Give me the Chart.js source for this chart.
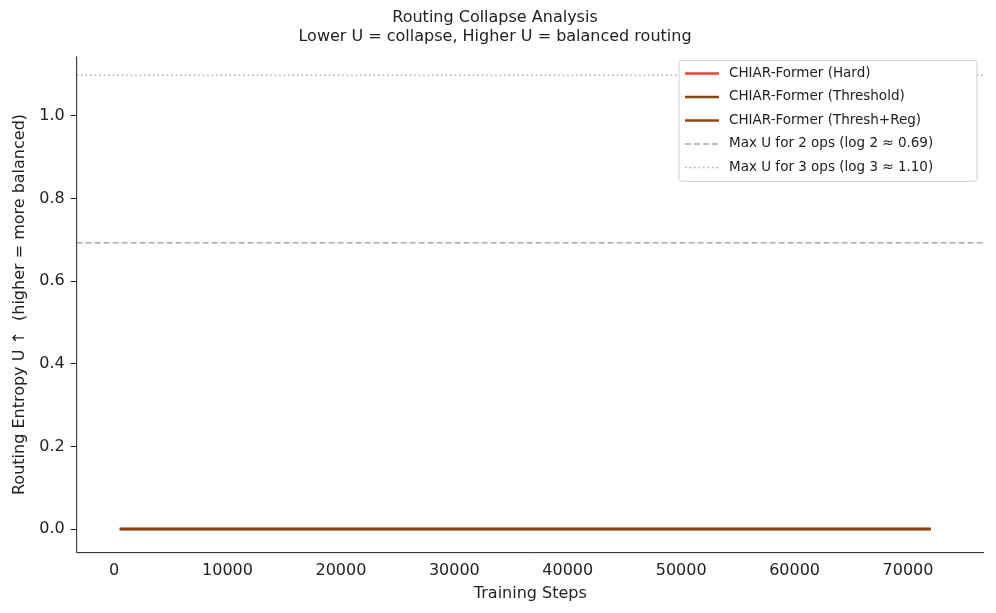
<!DOCTYPE html>
<html>
<head>
<meta charset="utf-8">
<script src="https://cdn.jsdelivr.net/npm/chart.js@4"></script>
<style>
  body { margin: 0; background: #fff; }
  #wrap { width: 996px; height: 613px; }
</style>
</head>
<body>
<div id="wrap"><canvas id="c" width="996" height="613"></canvas></div>
<script>
// ====== Data ======
const steps = [500, 10000, 20000, 30000, 40000, 50000, 60000, 72000];
const hardU = [0, 0, 0, 0, 0, 0, 0, 0];
const threshU = [0, 0, 0, 0, 0, 0, 0, 0];
const threshRegU = [0, 0, 0, 0, 0, 0, 0, 0];
const maxU2 = 0.693;
const maxU3 = 1.0986;
const xTicks = [0, 10000, 20000, 30000, 40000, 50000, 60000, 70000];
const yTicks = [0, 0.2, 0.4, 0.6, 0.8, 1.0];

const X_MIN = -3300, X_MAX = 76700;
const FONT = 'DejaVu Sans';

const pts = arr => steps.map((s, i) => ({ x: s, y: arr[i] }));
const hline = v => [{ x: X_MIN, y: v }, { x: X_MAX, y: v }];

const datasets = [
    { label: 'CHIAR-Former (Hard)', data: pts(hardU), borderColor: '#e8453c', borderWidth: 2.5, order: 5 },
    { label: 'CHIAR-Former (Threshold)', data: pts(threshU), borderColor: '#8b4513', borderWidth: 2.5, order: 4 },
    { label: 'CHIAR-Former (Thresh+Reg)', data: pts(threshRegU), borderColor: '#8b4513', borderWidth: 2.5, order: 3 },
    { label: 'Max U for 2 ops (log 2 \u2248 0.69)', data: hline(maxU2), borderColor: '#aaaaaa', borderWidth: 1.5, borderDash: [6, 3], order: 2 },
    { label: 'Max U for 3 ops (log 3 \u2248 1.10)', data: hline(maxU3), borderColor: '#aaaaaa', borderWidth: 1.5, borderDash: [1.5, 3], order: 1 }
];
datasets.forEach(d => { d.pointRadius = 0; d.fill = false; d.tension = 0; });

// ====== Legend drawn like matplotlib ======
const mplLegend = {
    id: 'mplLegend',
    afterDraw(chart) {
        const { ctx, chartArea } = chart;
        const w = 298, h = 121, x0 = chartArea.right - w - 7, y0 = chartArea.top + 4;
        ctx.save();
        ctx.fillStyle = 'rgba(255,255,255,0.85)';
        ctx.strokeStyle = '#d0d0d0';
        ctx.lineWidth = 1;
        ctx.beginPath();
        ctx.roundRect(x0, y0, w, h, 3);
        ctx.fill();
        ctx.stroke();
        ctx.font = '13.5px ' + FONT;
        ctx.textBaseline = 'middle';
        datasets.forEach((d, i) => {
            const y = y0 + 13 + i * 23.5;
            ctx.strokeStyle = d.borderColor;
            ctx.lineWidth = d.borderWidth;
            ctx.setLineDash(d.borderDash || []);
            ctx.beginPath();
            ctx.moveTo(x0 + 6, y);
            ctx.lineTo(x0 + 40, y);
            ctx.stroke();
            ctx.setLineDash([]);
            ctx.fillStyle = '#222';
            ctx.fillText(d.label, x0 + 50, y);
        });
        ctx.restore();
    }
};

// ====== Only left and bottom spines ======
const spines = {
    id: 'spines',
    afterDraw(chart) {
        const { ctx, chartArea } = chart;
        ctx.save();
        ctx.strokeStyle = '#222';
        ctx.lineWidth = 1;
        ctx.beginPath();
        ctx.moveTo(chartArea.left, chartArea.top);
        ctx.lineTo(chartArea.left, chartArea.bottom);
        ctx.lineTo(chartArea.right, chartArea.bottom);
        ctx.stroke();
        ctx.restore();
    }
};

new Chart(document.getElementById('c'), {
    type: 'line',
    data: { datasets },
    plugins: [mplLegend, spines],
    options: {
        responsive: false,
        animation: false,
        layout: { padding: { left: 6, right: 12, top: 6, bottom: 10 } },
        plugins: {
            legend: { display: false },
            tooltip: { enabled: false },
            title: {
                display: true,
                text: ['Routing Collapse Analysis', 'Lower U = collapse, Higher U = balanced routing'],
                font: { family: FONT, size: 16, weight: 'normal' },
                color: '#222',
                padding: { top: 2, bottom: 10 },
                lineHeight: 1.2
            }
        },
        scales: {
            x: {
                type: 'linear', min: X_MIN, max: X_MAX,
                afterBuildTicks: s => { s.ticks = xTicks.map(v => ({ value: v })); },
                grid: { display: false, drawTicks: true, tickLength: 6, tickColor: '#222' },
                border: { display: false },
                ticks: { font: { family: FONT, size: 16 }, color: '#222', maxRotation: 0, callback: v => String(v) },
                title: { display: true, text: 'Training Steps', font: { family: FONT, size: 16 }, color: '#222', padding: 0 }
            },
            y: {
                min: -0.057, max: 1.144,
                afterBuildTicks: s => { s.ticks = yTicks.map(v => ({ value: v })); },
                grid: { display: true, drawOnChartArea: false, tickLength: 6, tickColor: '#222' },
                border: { display: false },
                ticks: { font: { family: FONT, size: 16 }, color: '#222', padding: 6, callback: v => v.toFixed(1) },
                title: { display: true, text: 'Routing Entropy U \u2191  (higher = more balanced)', font: { family: FONT, size: 16 }, color: '#222' }
            }
        }
    }
});
</script>
</body>
</html>
